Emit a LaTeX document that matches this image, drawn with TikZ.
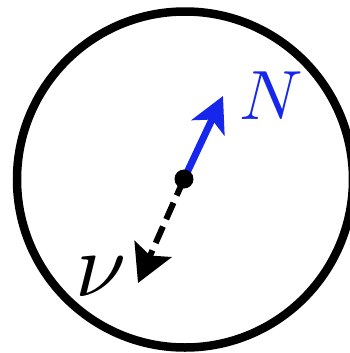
\documentclass[tikz,border=0pt]{standalone}
\usetikzlibrary{arrows.meta}
\definecolor{nblue}{RGB}{22,38,235}
\tikzset{
  ring/.style={draw=black,line width=8.5bp},
  dotmark/.style={circle,fill=black,inner sep=0pt,minimum size=19bp},
  narrow/.style={draw=nblue,line width=7bp,-{Stealth[length=35bp,width=36bp,inset=9bp]}},
  nuarrow/.style={draw=black,line width=6bp,dash pattern=on 18bp off 8bp,-{Stealth[length=37bp,width=40bp,inset=7bp]}},
  lbl/.style={inner sep=0pt}
}
\begin{document}
\begin{tikzpicture}[x=1bp,y=-1bp]
\useasboundingbox (0,0) rectangle (350,353);
\node[circle,ring,minimum size=336bp,inner sep=0pt] (ring) at (185,179.5) {};
\coordinate (o) at (184,179);
\coordinate (ntip) at (223,96);
\coordinate (nutip) at (138,283);
\draw[nuarrow] (o) -- (nutip);
\draw[narrow] (o) -- (ntip);
\node[dotmark] (dot) at (o) {};
\node[lbl,text=nblue,scale=7] (N) at (271,96) {$N$};
\node[lbl,scale=9.2] (nu) at (101,277) {$\nu$};
\end{tikzpicture}
\end{document}
